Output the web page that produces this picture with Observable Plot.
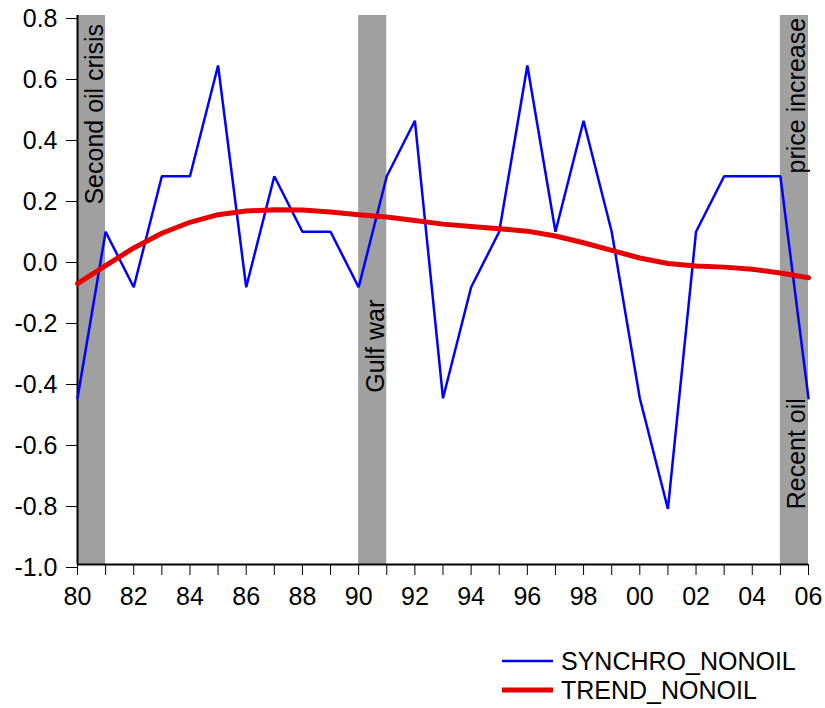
<!DOCTYPE html>
<html>
<head>
<meta charset="utf-8">
<script src="https://cdn.jsdelivr.net/npm/d3@7"></script>
<script src="https://cdn.jsdelivr.net/npm/@observablehq/plot@0.6"></script>
<style>
  body { margin: 0; background: #fff; font-family: "Liberation Sans", Arial, Helvetica, sans-serif; }
  #wrap { position: relative; width: 825px; height: 708px; }
  .leg { position: absolute; left: 502px; display: flex; align-items: flex-start; font-size: 25px; line-height: 29px; color: #000; }
  .leg svg { margin-right: 8px; }
</style>
</head>
<body>
<div id="wrap"></div>
<script>
// ---- data ----
const years = [1980,1981,1982,1983,1984,1985,1986,1987,1988,1989,1990,1991,1992,1993,1994,1995,1996,1997,1998,1999,2000,2001,2002,2003,2004,2005,2006];
const synchro = [-0.455,0.091,-0.091,0.273,0.273,0.636,-0.091,0.273,0.091,0.091,-0.091,0.273,0.455,-0.455,-0.091,0.091,0.636,0.091,0.455,0.091,-0.455,-0.818,0.091,0.273,0.273,0.273,-0.455];
const trend = [-0.079,-0.02,0.038,0.086,0.122,0.147,0.159,0.163,0.162,0.156,0.147,0.139,0.128,0.116,0.108,0.101,0.093,0.077,0.055,0.03,0.005,-0.013,-0.021,-0.025,-0.032,-0.044,-0.06];
const eventStart = [1980, 1990, 2005];
const eventEnd = [1981, 1991, 2006];
const labelText = ["Second oil crisis", "Gulf war", "Recent oil", "price increase"];
const labelYear = [1980.5, 1990.5, 2005.5, 2005.5];
const labelValue = [0.18, -0.437, -0.819, 0.282];
const yTicks = [-1.0,-0.8,-0.6,-0.4,-0.2,0.0,0.2,0.4,0.6,0.8];
const xLabelYears = [1980,1982,1984,1986,1988,1990,1992,1994,1996,1998,2000,2002,2004,2006];
const seriesNames = ["SYNCHRO_NONOIL", "TREND_NONOIL"];
const seriesColors = ["#0000ff", "#e60000"];
const seriesWidths = [2.5, 5];

// ---- tables ----
const rows = years.map((year, i) => ({year, synchro: synchro[i], trend: trend[i]}));
const events = eventStart.map((s, i) => ({start: s, end: eventEnd[i]}));
const labels = labelText.map((t, i) => ({text: t, year: labelYear[i], value: labelValue[i]}));
const yDomain = [-1, 0.8];
const xDomain = [1980, 2006];

const chart = Plot.plot({
  width: 825,
  height: 610,
  marginLeft: 77,
  marginRight: 17,
  marginTop: 15,
  marginBottom: 46,
  style: {fontSize: "25px", fontFamily: "'Liberation Sans', Arial, Helvetica, sans-serif", background: "#fff", color: "#000"},
  x: {domain: xDomain},
  y: {domain: yDomain},
  marks: [
    Plot.rect(events, {x1: "start", x2: "end", y1: yDomain[0], y2: yDomain[1], fill: "#a0a0a0"}),
    Plot.text(labels, {x: "year", y: "value", text: "text", rotate: -90, textAnchor: "start", dx: 3, fill: "#000", fontSize: 25}),
    Plot.axisX({ticks: years, tickSize: 11, tickPadding: 12, stroke: "#000", fontSize: 25, tickFormat: d => xLabelYears.includes(d) ? String(d).slice(2) : ""}),
    Plot.axisY({ticks: yTicks, tickSize: 11, tickPadding: 9, dy: 3, stroke: "#000", fontSize: 25, tickFormat: d => d.toFixed(1)}),
    Plot.ruleY([yDomain[0]], {stroke: "#000", strokeWidth: 2}),
    Plot.ruleX([xDomain[0]], {stroke: "#000", strokeWidth: 2}),
    Plot.line(rows, {x: "year", y: "synchro", stroke: seriesColors[0], strokeWidth: seriesWidths[0], strokeLinejoin: "miter"}),
    Plot.line(rows, {x: "year", y: "trend", stroke: seriesColors[1], strokeWidth: seriesWidths[1]})
  ]
});

const wrap = document.getElementById("wrap");
wrap.appendChild(chart);

seriesNames.forEach((name, i) => {
  const row = document.createElement("div");
  row.className = "leg";
  row.style.top = (647 + i * 29) + "px";
  row.innerHTML = `<svg width="51" height="29"><line x1="0" x2="51" y1="14" y2="14" stroke="${seriesColors[i]}" stroke-width="${seriesWidths[i]}"/></svg><span>${name}</span>`;
  wrap.appendChild(row);
});
</script>
</body>
</html>
